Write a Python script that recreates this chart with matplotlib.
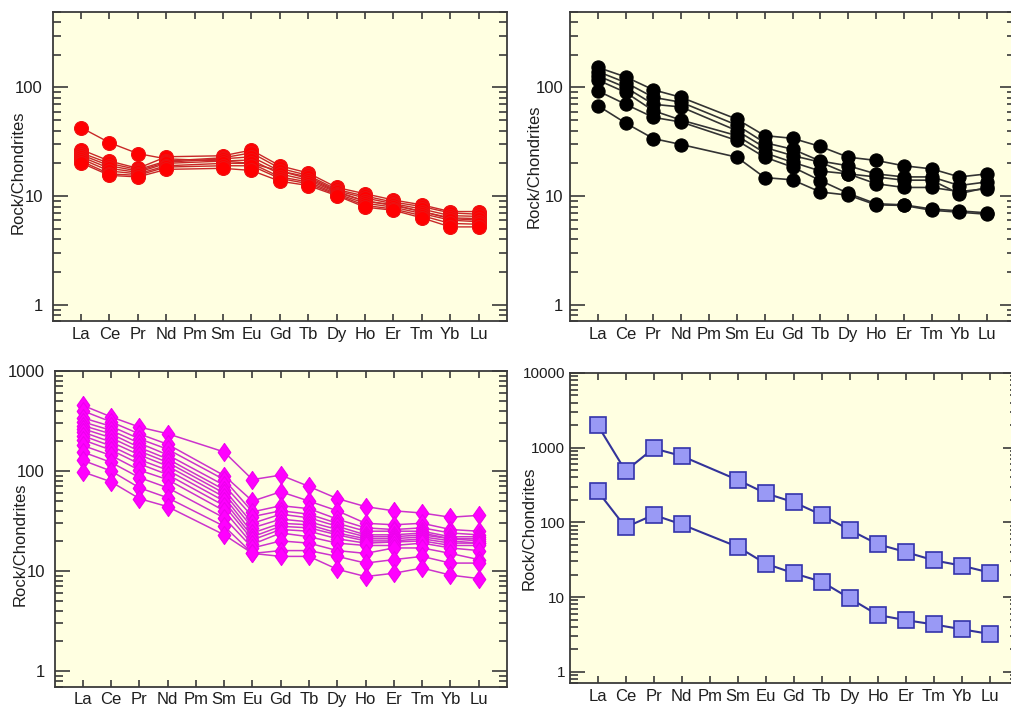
import numpy as np
import matplotlib
matplotlib.use("Agg")
import matplotlib.pyplot as plt
from matplotlib.ticker import FixedLocator, LogLocator, NullFormatter, FixedFormatter

plt.rcParams['font.family'] = ['Liberation Sans', 'DejaVu Sans']

elements = ["La", "Ce", "Pr", "Nd", "Pm", "Sm", "Eu", "Gd", "Tb", "Dy", "Ho", "Er", "Tm", "Yb", "Lu"]
N = None

# Panel A (red circles)
red_samples = [
    [42.7, 31, 24.6, 22, N, 21, 20, 17, 14.5, 11, 9, 8.3, 7.2, 6.2, 6.0],
    [26.8, 21, 18, 23, N, 23.5, 26.5, 19, 16.3, 12, 10.5, 9.2, 8.3, 7.2, 7.2],
    [25, 20, 17.5, 21, N, 22.5, 25, 18, 15.5, 11.5, 10, 8.8, 8, 7, 6.8],
    [24, 19, 17, 20.5, N, 22, 23, 17, 15, 11.2, 9.6, 8.5, 7.6, 6.6, 6.5],
    [23, 18, 16.5, 20, N, 21, 21.5, 16, 14, 10.8, 9, 8.2, 7.2, 6.3, 6.2],
    [22, 17, 16, 19, N, 20, 20, 15, 13.5, 10.5, 8.6, 7.9, 6.9, 6, 5.8],
    [21, 16, 15.5, 18.5, N, 19, 19, 14.5, 13, 10.3, 8.2, 7.6, 6.6, 5.6, 5.5],
    [20.2, 15.5, 15, 17.6, N, 18, 17.2, 13.7, 12.5, 10.1, 7.9, 7.4, 6.3, 5.2, 5.2],
]

# Panel B (black circles)
black_samples = [
    [153, 125, 95, 81, N, 51, 36, 34, 28.6, 22.8, 21.3, 19, 17.8, 15, 16],
    [140, 111, 81, 73, N, 45, 31, 27, 21, 19, 16, 15, 15, 12.5, 13.5],
    [128, 100, 70, 66, N, 40, 28, 23.6, 20.5, 16, 15, 14, 14, 10.5, 12],
    [117, 90, 61, 50, N, 36, 25, 20.5, 17, 16, 13, 12, 12, 11, 11.7],
    [93, 70, 53, 48, N, 32.5, 22.8, 18.5, 13.9, 10.6, 8.5, 8.3, 7.6, 7.3, 7.0],
    [68, 47, 33.8, 29.8, N, 22.8, 14.8, 14.1, 10.9, 10.2, 8.3, 8.2, 7.4, 7.1, 6.8],
]

# Panel C (magenta diamonds)
magenta_samples = [
    [453, 348, 275, 236, N, 155, 82, 91, 70, 53, 44, 40, 38, 34.5, 36],
    [400, 310, 235, 185, N, 90, 50, 62, 50, 40, 30, 29, 30, 26, 25],
    [340, 280, 210, 165, N, 82, 39, 45, 42, 33, 27, 26, 27, 24, 23],
    [310, 255, 190, 145, N, 72, 35, 40, 37, 30, 25, 25, 25, 22, 22],
    [285, 235, 172, 132, N, 65, 30, 37, 34, 28, 23, 23, 24, 21, 21],
    [265, 215, 158, 122, N, 60, 27, 33, 31, 26, 22, 22, 23, 21, 20],
    [245, 195, 145, 112, N, 55, 24, 30, 29, 24, 21, 21, 22, 20, 19],
    [225, 178, 130, 102, N, 50, 22, 28, 27, 23, 20, 20, 21, 19, 19],
    [205, 162, 118, 92, N, 45, 20.5, 26, 25, 21, 19, 19.5, 20, 18, 18],
    [180, 143, 102, 82, N, 40, 18.5, 24, 22, 19, 18, 18, 19, 17, 16],
    [155, 122, 86, 68, N, 34, 17, 20, 19, 16, 15, 17, 17, 15, 13],
    [128, 100, 68, 54, N, 28, 15, 16, 16, 14, 12, 13, 14, 12, 12],
    [98, 78, 53, 44, N, 23, 15, 14, 14, 10.4, 8.8, 9.5, 10.7, 9.1, 8.4],
]

# Panel D (blue squares)
blue_samples = [
    [2014, 488, 980, 774, N, 370, 245, 186, 126, 79, 51, 40, 31, 26.3, 21.2],
    [263, 86, 126, 94, N, 47, 28, 20.8, 16, 9.6, 5.75, 4.9, 4.3, 3.7, 3.2],
]

W, H = 1011, 708
fig = plt.figure(figsize=(W / 100, H / 100), dpi=100)
fig.patch.set_facecolor('white')

BG = '#FFFFE1'
SPINE = '#3a3a3a'
TXT = '#1e1e1e'


def make_ax(l, r, t, b):
    return fig.add_axes([l / W, 1 - b / H, (r - l) / W, (b - t) / H])


def style(ax, ylim, majors, label_x, label_y=0.5, ypad=7, ysize=12):
    ax.set_facecolor(BG)
    ax.set_yscale('log')
    ax.set_xlim(0, 16)
    ax.set_ylim(*ylim)
    for s in ax.spines.values():
        s.set_color(SPINE)
        s.set_linewidth(1.3)
    ax.xaxis.set_major_locator(FixedLocator(range(1, 16)))
    ax.xaxis.set_major_formatter(FixedFormatter(elements))
    ax.yaxis.set_major_locator(FixedLocator(majors))
    ax.yaxis.set_major_formatter(FixedFormatter([str(int(m)) for m in majors]))
    ax.yaxis.set_minor_locator(LogLocator(base=10, subs=np.arange(2, 10), numticks=20))
    ax.yaxis.set_minor_formatter(NullFormatter())
    ax.tick_params(axis='x', which='both', direction='in', top=True, bottom=True,
                   length=5, width=1.2, color=SPINE, labelsize=12, labelcolor=TXT, pad=4)
    ax.tick_params(axis='y', which='major', direction='in', left=True, right=True,
                   length=11, width=1.2, color=SPINE, labelsize=ysize, labelcolor=TXT, pad=ypad)
    ax.tick_params(axis='y', which='minor', direction='in', left=True, right=True,
                   length=6, width=1.2, color=SPINE)
    ax.set_ylabel('Rock/Chondrites', fontsize=12, color=TXT, va='center')
    ax.yaxis.set_label_coords(label_x, label_y)


def draw(ax, samples, marker, ms, mfc, mec, lc, lw, mew=0.8):
    for s in samples:
        xs = [i + 1 for i, v in enumerate(s) if v is not None]
        ys = [v for v in s if v is not None]
        ax.plot(xs, ys, color=lc, lw=lw, marker=marker, ms=ms, mfc=mfc, mec=mec,
                mew=mew, zorder=3)


diamond = [(0, 1), (0.7, 0), (0, -1), (-0.7, 0), (0, 1)]

ax1 = make_ax(52.7, 507, 11.5, 321.5)
style(ax1, (0.7, 500), [1, 10, 100], (18.5 - 52.7) / 454.3, 0.48)
draw(ax1, red_samples, 'o', 10, '#FF0000', '#EE1111', '#C82828', 1.0)

ax2 = make_ax(570, 1015, 11.5, 321.5)
style(ax2, (0.7, 500), [1, 10, 100], (534 - 570) / 445, 0.5, ypad=5)
draw(ax2, black_samples, 'o', 9.5, '#000000', '#000000', '#333333', 1.2)

ax3 = make_ax(54.5, 507, 371, 686.5)
style(ax3, (0.7, 1000), [1, 10, 100, 1000], (20 - 54.5) / 452.5, 0.45)
draw(ax3, magenta_samples, diamond, 13, '#FF00FF', '#EE00EE', '#CC33CC', 1.1)

ax4 = make_ax(569.5, 1018, 373, 683.3)
style(ax4, (0.7, 10000), [1, 10, 100, 1000, 10000], (529 - 569.5) / 448.5, 0.5,
      ypad=3, ysize=11)
draw(ax4, blue_samples, 's', 11, '#9999F5', '#3333AA', '#33339A', 1.5, mew=1.2)

fig.savefig('out.png', dpi=100, facecolor='white')
